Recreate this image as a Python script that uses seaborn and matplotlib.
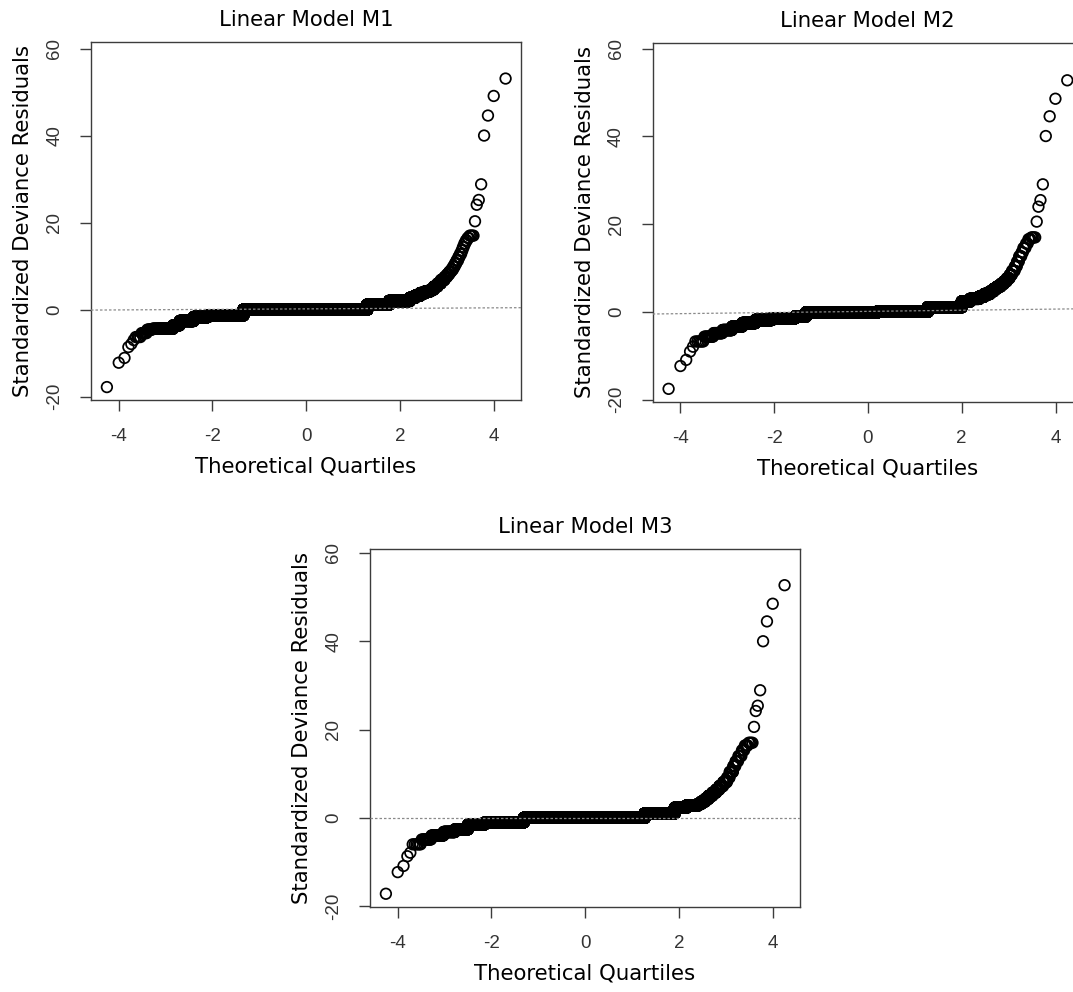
import numpy as np
import pandas as pd
import matplotlib
matplotlib.use("Agg")
import matplotlib.pyplot as plt
import seaborn as sns
from statistics import NormalDist

# ---------------- data ----------------
N_OBS = 47000  # sample size implied by the largest theoretical quantile (~4.25)

titles = ["Linear Model M1", "Linear Model M2", "Linear Model M3"]
x_label = "Theoretical Quartiles"
y_label = "Standardized Deviance Residuals"
x_ticks = [-4, -2, 0, 2, 4]
y_ticks = [-20, 0, 20, 40, 60]

# Model M1: lowest residuals, residual plateaus (value + quantile where it starts), highest residuals
low_m1 = [-17.8, -12.2, -11.1, -8.6, -7.9]
levels_m1 = [-7.0, -6.3, -5.4, -4.6, -4.4, -3.6, -2.6, -1.7, -1.3, 0.0, 1.15, 2.0,
             2.7, 3.2, 3.8, 4.2, 4.6, 5.3, 6.0, 6.8, 7.5, 8.1, 8.7, 9.2, 9.9, 10.6,
             11.3, 12.1, 12.8, 13.6, 14.4, 15.2, 15.9, 16.5, 17.0]
starts_m1 = [-3.70, -3.64, -3.52, -3.40, -3.28, -2.84, -2.70, -2.40, -2.10, -1.34, 1.30, 1.77,
             2.21, 2.32, 2.43, 2.54, 2.65, 2.72, 2.80, 2.87, 2.95, 3.00, 3.05, 3.09, 3.13, 3.17,
             3.20, 3.24, 3.27, 3.31, 3.34, 3.37, 3.40, 3.43, 3.47]
high_m1 = [20.3, 24.1, 25.2, 28.8, 40.0, 44.6, 49.1, 53.1]

# Model M2
low_m2 = [-17.5, -12.3, -10.9, -9.0, -7.9]
levels_m2 = [-6.7, -5.6, -4.8, -4.1, -3.3, -2.5, -1.8, -1.4, -1.0, -0.1, 0.1, 1.1,
             2.4, 3.0, 3.5, 4.1, 4.7, 5.3, 5.8, 6.4, 7.0, 7.7, 8.5, 9.4, 10.4, 11.5,
             12.7, 13.6, 14.6, 15.6, 16.6, 17.0]
starts_m2 = [-3.70, -3.50, -3.30, -3.10, -2.90, -2.68, -2.40, -2.05, -1.55, -1.32, 0.20, 1.28,
             2.00, 2.18, 2.37, 2.48, 2.60, 2.68, 2.75, 2.83, 2.90, 2.96, 3.02, 3.07, 3.13, 3.18,
             3.22, 3.27, 3.31, 3.36, 3.42, 3.48]
high_m2 = [20.6, 24.0, 25.5, 29.1, 40.1, 44.6, 48.6, 52.8]

# Model M3
low_m3 = [-17.2, -12.3, -10.9, -8.7, -7.9]
levels_m3 = [-6.0, -4.9, -4.0, -3.2, -2.6, -1.5, -1.1, -1.0, 0.0, 1.0,
             2.3, 2.8, 3.2, 3.7, 4.3, 5.0, 5.7, 6.4, 7.2, 8.1, 9.1, 10.4, 11.7,
             12.8, 14.0, 15.3, 16.4, 17.0]
starts_m3 = [-3.70, -3.50, -3.28, -3.02, -2.78, -2.50, -2.15, -1.70, -1.31, 1.27,
             1.91, 2.16, 2.41, 2.48, 2.56, 2.63, 2.71, 2.79, 2.86, 2.94, 3.02, 3.08, 3.15,
             3.20, 3.26, 3.33, 3.40, 3.48]
high_m3 = [20.6, 24.2, 25.4, 28.9, 40.0, 44.5, 48.5, 52.7]

# reference (qqline) lines: intercept, slope
qq_intercepts = [0.17, 0.15, -0.05]
qq_slopes = [0.06, 0.13, 0.0]

# y limits of each panel
y_lows = [-20.77, -20.5, -20.2]
y_highs = [61.5, 61.3, 60.9]

# ---------------- helpers ----------------
nd = NormalDist()


def build_sample(low, levels, starts, high, n):
    bounds = [len(low)] + [int(round(n * nd.cdf(s))) for s in starts[1:]] + [n - len(high)]
    counts = np.clip(np.diff(bounds), 0, None)
    vals = np.concatenate([np.array(low, float), np.repeat(levels, counts), np.array(high, float)])
    return np.sort(vals)


def theoretical_quantiles(n):
    p = (np.arange(1, n + 1) - 0.5) / n
    return np.array([nd.inv_cdf(pi) for pi in p])


samples = [
    build_sample(low_m1, levels_m1, starts_m1, high_m1, N_OBS),
    build_sample(low_m2, levels_m2, starts_m2, high_m2, N_OBS),
    build_sample(low_m3, levels_m3, starts_m3, high_m3, N_OBS),
]

# ---------------- styling ----------------
sns.set_style("white")
plt.rcParams["font.family"] = ["DejaVu Sans"]
plt.rcParams["axes.unicode_minus"] = False

W, H = 1073, 992
fig = plt.figure(figsize=(W / 100, H / 100), dpi=100)
fig.patch.set_facecolor("white")

# axes boxes in pixels: left, top, width, height
boxes = [(91, 42, 430, 358), (652.7, 43, 430, 359), (370, 549, 430, 358)]

label_fs = 15.3
tick_fs = 13.5
spine_col = "#3c3c3c"

for k in range(3):
    l, t, w, h = boxes[k]
    ax = fig.add_axes([l / W, 1 - (t + h) / H, w / W, h / H])
    vals = samples[k]
    q = theoretical_quantiles(len(vals))
    df = pd.DataFrame({"theoretical": q, "residual": vals})
    sns.scatterplot(data=df, x="theoretical", y="residual", ax=ax, marker="o", s=58,
                    facecolors="none", edgecolor="black", linewidth=1.25, legend=False,
                    zorder=2)
    for coll in ax.collections:
        coll.set_facecolor("none")
    ax.axline((0, qq_intercepts[k]), slope=qq_slopes[k], color="#8a8a8a",
              linestyle=(0, (2.0, 1.6)), linewidth=0.9, zorder=3)

    ax.set_xlim(-4.59, 4.58)
    ax.set_ylim(y_lows[k], y_highs[k])
    ax.set_xticks(x_ticks)
    ax.set_yticks(y_ticks)
    ax.set_xticklabels([str(v) for v in x_ticks], fontfamily="Liberation Sans",
                       fontsize=tick_fs, color="#333333")
    ax.set_yticklabels([str(v) for v in y_ticks], fontfamily="Liberation Sans",
                       fontsize=tick_fs, color="#333333", rotation=90, va="center")
    ax.tick_params(axis="both", direction="out", length=8, width=1.0, color=spine_col,
                   pad=12, bottom=True, left=True)
    for sp in ax.spines.values():
        sp.set_visible(True)
        sp.set_color(spine_col)
        sp.set_linewidth(1.0)

    ax.set_xlabel(x_label, fontsize=label_fs, color="black")
    ax.set_ylabel(y_label, fontsize=label_fs, color="black")
    ax.xaxis.set_label_coords(0.5, -66.5 / h)
    ax.xaxis.label.set_verticalalignment("center")
    ax.yaxis.set_label_coords(-68 / w, 0.5)
    ax.yaxis.label.set_verticalalignment("center")
    ax.text(0.5, 1 + 22 / h, titles[k], transform=ax.transAxes, ha="center", va="center",
            fontsize=label_fs, color="black")

fig.savefig("out.png", dpi=100)
